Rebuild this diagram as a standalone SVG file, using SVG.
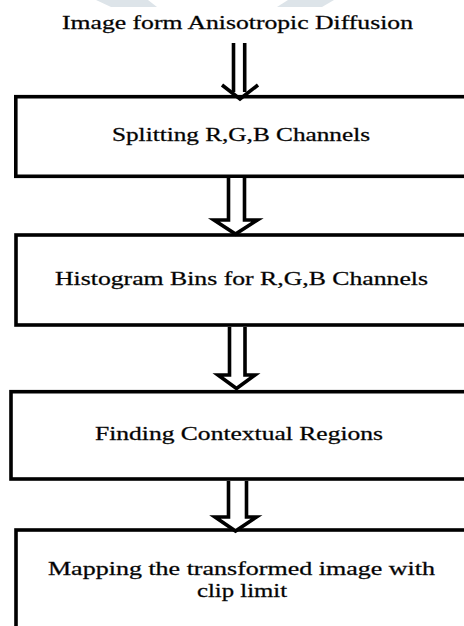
<svg xmlns="http://www.w3.org/2000/svg" width="464" height="626" viewBox="0 0 464 626">
<style>
.box{fill:#ffffff;stroke:#000000;stroke-width:3.6}
.lbl{font-family:"Liberation Serif","Times New Roman",serif;font-size:18.5px;fill:#000000;stroke:#1a1a1a;stroke-width:0.3;text-anchor:middle}
.dbl{stroke:#000000;stroke-width:3.6;fill:none}
.blk{fill:#ffffff;stroke:#000000;stroke-width:3.6;stroke-linejoin:miter}
.wm{fill:#dde4e9}
</style>
<rect width="464" height="626" fill="#ffffff"/>
<polygon class="wm" points="96,0 148,0 157,7 111,7"/>
<polygon class="wm" points="288,0 334,0 322,7 277,7"/>
<text class="lbl" transform="scale(1.4,1)" x="169.64" y="29.5" textLength="250.7" lengthAdjust="spacingAndGlyphs">Image form Anisotropic Diffusion</text>
<g id="node1">
<rect class="box" x="15.8" y="96.7" width="460" height="79.6"/>
<text class="lbl" transform="scale(1.4,1)" x="172.14" y="141.5" textLength="184.3" lengthAdjust="spacingAndGlyphs">Splitting R,G,B Channels</text>
</g>
<g id="node2">
<rect class="box" x="16" y="235" width="460" height="90"/>
<text class="lbl" transform="scale(1.4,1)" x="172.5" y="285" textLength="266.4" lengthAdjust="spacingAndGlyphs">Histogram Bins for R,G,B Channels</text>
</g>
<g id="node3">
<rect class="box" x="11" y="391.7" width="465" height="87.3"/>
<text class="lbl" transform="scale(1.4,1)" x="170.71" y="440" textLength="205.7" lengthAdjust="spacingAndGlyphs">Finding Contextual Regions</text>
</g>
<g id="node4">
<rect class="box" x="16" y="530" width="460" height="120"/>
<text class="lbl" transform="scale(1.4,1)" x="172.5" y="575" textLength="276.4" lengthAdjust="spacingAndGlyphs">Mapping the transformed  image with</text>
<text class="lbl" transform="scale(1.4,1)" x="172.86" y="597.5" textLength="64.3" lengthAdjust="spacingAndGlyphs">clip limit</text>
</g>
<g id="connectors">
<line class="dbl" x1="233.5" y1="43" x2="233.5" y2="92"/>
<line class="dbl" x1="244.7" y1="43" x2="244.7" y2="92"/>
<polyline class="dbl" points="222,85 240,99 258,85"/>
<path class="blk" d="M228.5,178 L228.5,220 L214,220 L235.5,234 L257.5,220 L244.5,220 L244.5,178"/>
<path class="blk" d="M229.5,327 L229.5,375 L218,375 L236.5,388.5 L255,375 L245,375 L245,327"/>
<path class="blk" d="M228.5,481 L228.5,517 L215,517 L235.5,531 L256.5,517 L246.5,517 L246.5,481"/>
</g>
</svg>
